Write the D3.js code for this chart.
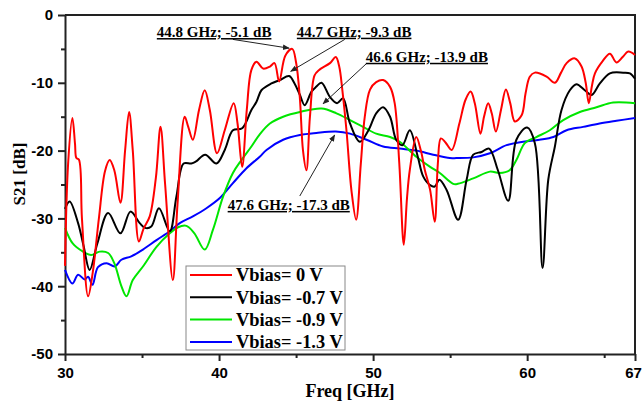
<!DOCTYPE html>
<html>
<head>
	<meta charset="utf-8">
	<title></title>
	<style>
		body { margin: 0; background: #fff; }
		text { font-family: "Liberation Sans", Arial, sans-serif; }
		.serif { font-family: "Liberation Serif", "Times New Roman", serif; font-weight: bold; }
	</style>
</head>
<body>

<svg id="chart" width="642" height="401"></svg>

<script src="https://d3js.org/d3.v7.min.js"></script>
<script>
	// -------------------------------------------------------------
	// Data (Freq in GHz, S21 in dB)

	const redFreq = [30.0,30.2,30.48,30.65,30.74,30.9,31.1,31.5,31.8,32.2,32.6,32.9,33.2,33.6,33.9,34.16,34.4,34.8,35.1,35.5,35.9,36.2,36.5,37.0,37.3,37.77,38.0,38.3,38.7,39.07,39.4,39.87,40.37,40.95,41.2,41.5,41.8,42.1,42.43,42.86,43.3,43.6,43.9,44.3,44.75,45.0,45.24,45.45,45.67,45.9,46.2,46.5,47.2,47.58,47.8,48.0,48.27,48.6,48.9,49.2,49.46,49.8,50.2,50.65,51.1,51.4,51.7,51.99,52.2,52.38,52.8,53.1,53.36,53.7,54.0,54.2,54.4,54.7,55.1,55.6,56.0,56.33,56.6,56.97,57.2,57.47,57.7,57.97,58.3,58.62,58.9,59.2,59.64,59.9,60.17,60.5,61.26,61.8,62.2,62.56,63.1,63.53,63.8,64.0,64.2,64.4,64.9,65.37,65.8,66.2,66.56,67]
	const redS21 = [-37,-22,-15.2,-19,-21.1,-21.3,-30,-41.5,-38,-30,-23,-21.4,-22.9,-27.7,-20,-14.3,-20,-33.4,-31.5,-29.7,-24,-16.5,-25,-39.1,-28,-15.0,-16.5,-18.4,-14,-11.1,-14,-20.4,-17.0,-13.0,-16,-22.4,-14,-8.1,-6.9,-7.9,-7.6,-7.1,-9.8,-6,-5.0,-7,-12.1,-20,-22.9,-15,-8.9,-8.1,-7.1,-6.2,-7.6,-11,-17,-26,-30.2,-22,-15.0,-11,-9.9,-9.6,-10.6,-13.0,-21.9,-33.9,-27,-22.9,-18,-20,-22.9,-25.8,-30.5,-22,-18.2,-18.8,-19.9,-16,-12.5,-11.3,-13,-17.5,-15,-13.0,-14.5,-17.2,-14,-11.0,-13,-15.7,-14.8,-11.5,-9.1,-8.5,-9.1,-10.0,-8.5,-7.1,-6.4,-7.6,-10,-13.0,-10.5,-8.6,-6.8,-5.7,-7.0,-6.2,-5.4,-5.9]

	const blackFreq = [30.0,30.3,30.85,31.2,31.6,32.1,32.8,33.6,34.25,34.85,35.2,35.6,36.1,36.8,37.23,37.7,38.2,38.5,39.1,39.83,40.37,40.9,41.5,42.1,42.43,42.75,43.4,43.94,44.55,44.9,45.25,45.56,46.0,46.3,46.65,47.2,47.66,48.05,48.5,49.14,49.7,50.2,50.65,51.1,51.5,51.9,52.38,52.9,53.25,53.7,54.0,54.3,54.77,55.52,56.07,56.5,57.04,57.53,58.1,58.77,59.3,60.0,60.5,61.0,61.37,61.8,62.23,62.77,63.2,63.74,64.18,64.72,65.37,66.23,66.67,67]
	const blackS21 = [-28.6,-27.5,-30.7,-34,-37.6,-33.7,-29.2,-32.2,-29.0,-30.7,-31.4,-31.2,-28.5,-31.9,-26.8,-21.9,-21.9,-21.6,-20.6,-21.9,-19.9,-17.0,-16.7,-14.0,-12.8,-11.1,-10.1,-9.6,-9.0,-10.1,-11.8,-13.3,-11.3,-10.6,-10.0,-12.1,-13.0,-12.3,-16.0,-18.7,-17.0,-14.5,-13.6,-15.0,-18.4,-19.2,-17.0,-20.9,-23.8,-25.1,-25.3,-24.3,-25.8,-30.2,-24.3,-20.6,-20.2,-19.7,-22.9,-27.4,-18.4,-16.6,-18.9,-37.3,-24.3,-19.4,-14.0,-11.1,-10.2,-11.1,-11.8,-10.1,-8.6,-8.5,-8.6,-9.4]

	const greenFreq = [30.0,30.5,31.17,31.7,32.25,32.8,33.2,33.66,33.99,34.4,35.06,35.94,36.8,37.34,37.88,38.4,39.07,39.6,40.26,40.9,41.45,42.1,42.64,43.3,44.16,45.25,46.65,47.62,48.5,49.35,50.2,51.1,51.73,52.8,53.7,54.33,55.2,55.5,56.5,57.58,58.2,58.86,59.3,59.85,60.6,61.47,62.34,63.42,64.5,65.58,67]
	const greenS21 = [-31.4,-33.7,-34.9,-35.4,-34.9,-35.1,-36.6,-40.0,-41.5,-39.1,-37.1,-34.2,-32.2,-31.3,-31.1,-32.2,-34.6,-31.7,-26.8,-23.3,-21.4,-19.4,-17.6,-16.0,-15.0,-14.3,-13.8,-14.5,-15.5,-16.5,-17.5,-18.0,-18.7,-20.9,-22.4,-23.3,-24.9,-24.9,-24.1,-23.1,-23.3,-22.9,-21.4,-18.9,-18.0,-17.0,-15.5,-14.3,-13.6,-12.9,-13.0]

	const blueFreq = [30.0,30.48,30.85,31.28,31.5,31.78,32.14,32.7,33.23,33.66,34.3,35.06,35.94,36.8,37.45,38.3,39.18,40.05,40.9,41.78,42.64,43.08,44.16,45.25,46.32,47.58,48.5,49.57,50.65,51.73,52.8,53.9,54.98,55.4,56.5,57.58,58.66,59.74,60.8,61.7,62.56,63.63,64.7,65.8,67]
	const blueS21 = [-37.6,-39.6,-38.3,-39.0,-38.6,-39.8,-37.2,-36.6,-37.1,-36.1,-35.6,-34.6,-33.2,-31.9,-30.7,-29.7,-28.5,-27.0,-24.8,-22.6,-20.9,-19.9,-18.4,-17.7,-17.4,-17.2,-17.5,-18.4,-19.4,-19.7,-20.0,-20.6,-21.1,-21.1,-21.0,-20.4,-19.2,-18.7,-18.4,-18.0,-17.0,-16.5,-16.0,-15.6,-15.2]

	const seriesNames = ['Vbias= 0 V', 'Vbias= -0.7 V', 'Vbias= -0.9 V', 'Vbias= -1.3 V']
	const seriesColors = ['#ff0000', '#000000', '#00e600', '#0000ff']

	const xTicks = [30, 40, 50, 60, 67]
	const xMinorTicks = [35, 45, 55, 65]
	const yTicks = [0, -10, -20, -30, -40, -50]
	const yMinorTicks = [-5, -15, -25, -35, -45]

	// annotation label anchor, arrow start and arrow tip (all in data units)
	const noteTexts = ['44.8 GHz; -5.1 dB', '44.7 GHz; -9.3 dB', '46.6 GHz; -13.9 dB', '47.6 GHz; -17.3 dB']
	const noteLabelAt = [[35.96, -3.25], [45.05, -3.2], [49.53, -6.9], [40.56, -28.75]]
	const noteFrom = [[40.9, -3.6], [48.16, -3.6], [49.6, -7.1], [45.24, -26.7]]
	const noteTo = [[44.55, -4.9], [44.65, -8.3], [46.75, -13.1], [47.5, -17.7]]

	// -------------------------------------------------------------

	const margin = { top: 15, right: 7, bottom: 47, left: 65 }
	const width = 642 - margin.left - margin.right
	const height = 401 - margin.top - margin.bottom

	const xScale = d3.scaleLinear().domain([30, 67]).range([0, width])
	const yScale = d3.scaleLinear().domain([-50, 0]).range([height, 0])

	// plain hyphen for negatives, like the original
	const plain = d => String(d)

	const svg = d3.select('#chart')
	const g = svg.append('g')
		.attr('transform', `translate(${margin.left}, ${margin.top})`)

	// arrow head for the notes
	svg.append('defs').append('marker')
		.attr('id', 'head')
		.attr('viewBox', '0 0 10 10')
		.attr('refX', 9).attr('refY', 5)
		.attr('markerWidth', 7).attr('markerHeight', 7)
		.attr('orient', 'auto')
		.append('path')
		.attr('d', 'M0,1 L10,5 L0,9 Z')
		.attr('fill', '#222')

	// top and right frame
	g.append('path')
		.attr('d', `M0,0 H${width} V${height}`)
		.attr('fill', 'none')
		.attr('stroke', '#222')
		.attr('stroke-width', 2)

	// Axes: major ticks with labels, minor ticks without
	g.append('g')
		.attr('transform', `translate(0, ${height})`)
		.call(d3.axisBottom(xScale).tickValues(xTicks).tickFormat(plain).tickSize(7).tickSizeOuter(0).tickPadding(6))
		.call(a => a.selectAll('.tick text').filter(d => d === 67).attr('dx', -2))
	g.append('g')
		.attr('transform', `translate(0, ${height})`)
		.call(d3.axisBottom(xScale).tickValues(xMinorTicks).tickSize(4).tickSizeOuter(0).tickFormat(''))
		.call(a => a.select('.domain').remove())

	g.append('g')
		.call(d3.axisLeft(yScale).tickValues(yTicks).tickFormat(plain).tickSize(7).tickSizeOuter(0).tickPadding(5))
	g.append('g')
		.call(d3.axisLeft(yScale).tickValues(yMinorTicks).tickSize(4).tickSizeOuter(0).tickFormat(''))
		.call(a => a.select('.domain').remove())

	g.selectAll('.domain').attr('stroke', '#222').attr('stroke-width', 2)
	g.selectAll('.tick line').attr('stroke', '#222').attr('stroke-width', 2)
	g.selectAll('.tick text')
		.attr('fill', '#000')
		.style('font-family', '"Liberation Sans", Arial, sans-serif')
		.style('font-weight', 'bold')
		.style('font-size', '15px')

	// axis titles
	svg.append('text')
		.attr('class', 'serif')
		.attr('x', margin.left + width / 2)
		.attr('y', 397)
		.attr('text-anchor', 'middle')
		.style('font-size', '18px')
		.text('Freq [GHz]')

	svg.append('text')
		.attr('class', 'serif')
		.attr('transform', 'translate(25, 174) rotate(-90)')
		.attr('text-anchor', 'middle')
		.style('font-size', '17px')
		.text('S21 [dB]')

	// the four traces
	const freqs = [redFreq, blackFreq, greenFreq, blueFreq]
	const values = [redS21, blackS21, greenS21, blueS21]

	const line = d3.line()
		.x(d => xScale(d[0]))
		.y(d => yScale(d[1]))
		.curve(d3.curveCatmullRom.alpha(0.5))

	// draw blue first so red ends up on top like the original
	for (let i = 3; i >= 0; i--) {
		const pts = freqs[i].map((f, j) => [f, values[i][j]])
		g.append('path')
			.datum(pts)
			.attr('d', line)
			.attr('fill', 'none')
			.attr('stroke', seriesColors[i])
			.attr('stroke-width', 2)
			.attr('stroke-linejoin', 'round')
	}

	// notes with arrows
	noteTexts.forEach((t, i) => {
		g.append('line')
			.attr('x1', xScale(noteFrom[i][0]))
			.attr('y1', yScale(noteFrom[i][1]))
			.attr('x2', xScale(noteTo[i][0]))
			.attr('y2', yScale(noteTo[i][1]))
			.attr('stroke', '#222')
			.attr('stroke-width', 1)
			.attr('marker-end', 'url(#head)')
		g.append('text')
			.attr('class', 'serif')
			.attr('x', xScale(noteLabelAt[i][0]))
			.attr('y', yScale(noteLabelAt[i][1]))
			.style('font-size', '15px')
			.style('text-decoration', 'underline')
			.text(t)
	})

	// legend
	const legend = svg.append('g')
		.attr('transform', 'translate(186, 266)')

	legend.append('rect')
		.attr('width', 159)
		.attr('height', 84)
		.attr('fill', '#fff')
		.attr('stroke', '#888')
		.attr('stroke-width', 1)

	const rows = legend.selectAll('g.row')
		.data(seriesNames)
		.enter()
		.append('g')
		.attr('class', 'row')
		.attr('transform', (d, i) => `translate(0, ${9 + i * 22.3})`)

	rows.append('line')
		.attr('x1', 4).attr('x2', 46)
		.attr('stroke', (d, i) => seriesColors[i])
		.attr('stroke-width', 2)

	rows.append('text')
		.attr('class', 'serif')
		.attr('x', 50)
		.attr('dy', '0.35em')
		.style('font-size', '18.4px')
		.text(d => d)
</script>
</body>
</html>
